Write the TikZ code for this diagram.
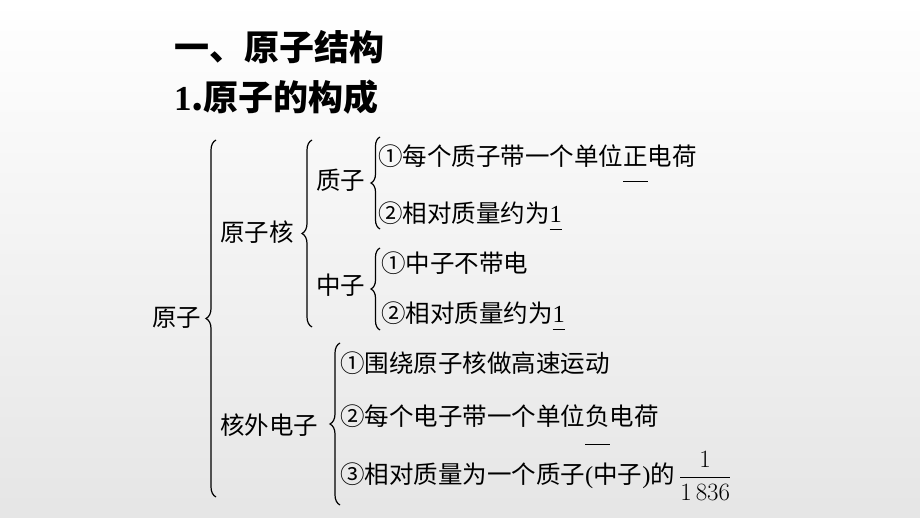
\documentclass[tikz,border=0pt]{standalone}
\usepackage{amsmath}
\usepackage{fontspec}
\setmainfont{Noto Sans CJK SC}
\newfontfamily\numfont{Liberation Serif}
\usetikzlibrary{decorations.pathreplacing}
\newcommand{\fillin}[2]{\leavevmode\setbox0\hbox{#2}\rlap{\smash{\raisebox{-#1}{\rule{\wd0}{1.3pt}}}}\box0}

\begin{document}
\begin{tikzpicture}[x=1pt,y=1pt,
    txt/.style={anchor=west,inner sep=0pt,font=\fontsize{24.5}{28}\selectfont},
    head/.style={anchor=west,inner sep=0pt,font=\fontsize{35}{40}\selectfont\bfseries},
    br/.style={decorate,line width=1.2pt,decoration={brace,amplitude=#1}}]
    \shade[top color=white,bottom color=black!10] (0,0) rectangle (920,518);
    \useasboundingbox (0,0) rectangle (920,518);
    \node[head] (title) at (174,471) {一、原子结构};
    \node[head] (subtitle) at (174,421) {{\numfont\bfseries 1}.原子的构成};
    \node[txt] (atom) at (152,200) {原子};
    \node[txt] (nucleus) at (220,286) {原子核};
    \node[txt] (proton) at (316,338) {质子};
    \node[txt] (p1) at (378,362) {①每个质子带一个单位\fillin{17pt}{正}电荷};
    \node[txt] (p2) at (378,305) {②相对质量约为\fillin{8pt}{\numfont 1}};
    \node[txt] (neutron) at (316,233) {中子};
    \node[txt] (n1) at (381,255) {①中子不带电};
    \node[txt] (n2) at (381,205) {②相对质量约为\fillin{8pt}{\numfont 1}};
    \node[txt] (electron) at (220,93) {核外电子};
    \node[txt] (e1) at (340,155) {①围绕原子核做高速运动};
    \node[txt] (e2) at (340,102) {②每个电子带一个单位\fillin{20pt}{负}电荷};
    \node[txt] (e3) at (340,42) {③相对质量为一个质子{\numfont(}中子{\numfont)}的\,$\dfrac{1}{1\,836}$};
    \coordinate (b1a) at (216,21);
    \coordinate (b1b) at (216,378);
    \coordinate (b2a) at (312,191);
    \coordinate (b2b) at (312,378);
    \coordinate (b3a) at (380,289);
    \coordinate (b3b) at (380,381);
    \coordinate (b4a) at (380,188);
    \coordinate (b4b) at (380,270);
    \coordinate (b5a) at (340,13);
    \coordinate (b5b) at (340,175);
    \draw[br=10pt] (b1a) -- (b1b);
    \draw[br=10pt] (b2a) -- (b2b);
    \draw[br=9pt] (b3a) -- (b3b);
    \draw[br=9pt] (b4a) -- (b4b);
    \draw[br=10pt] (b5a) -- (b5b);
\end{tikzpicture}
\end{document}
